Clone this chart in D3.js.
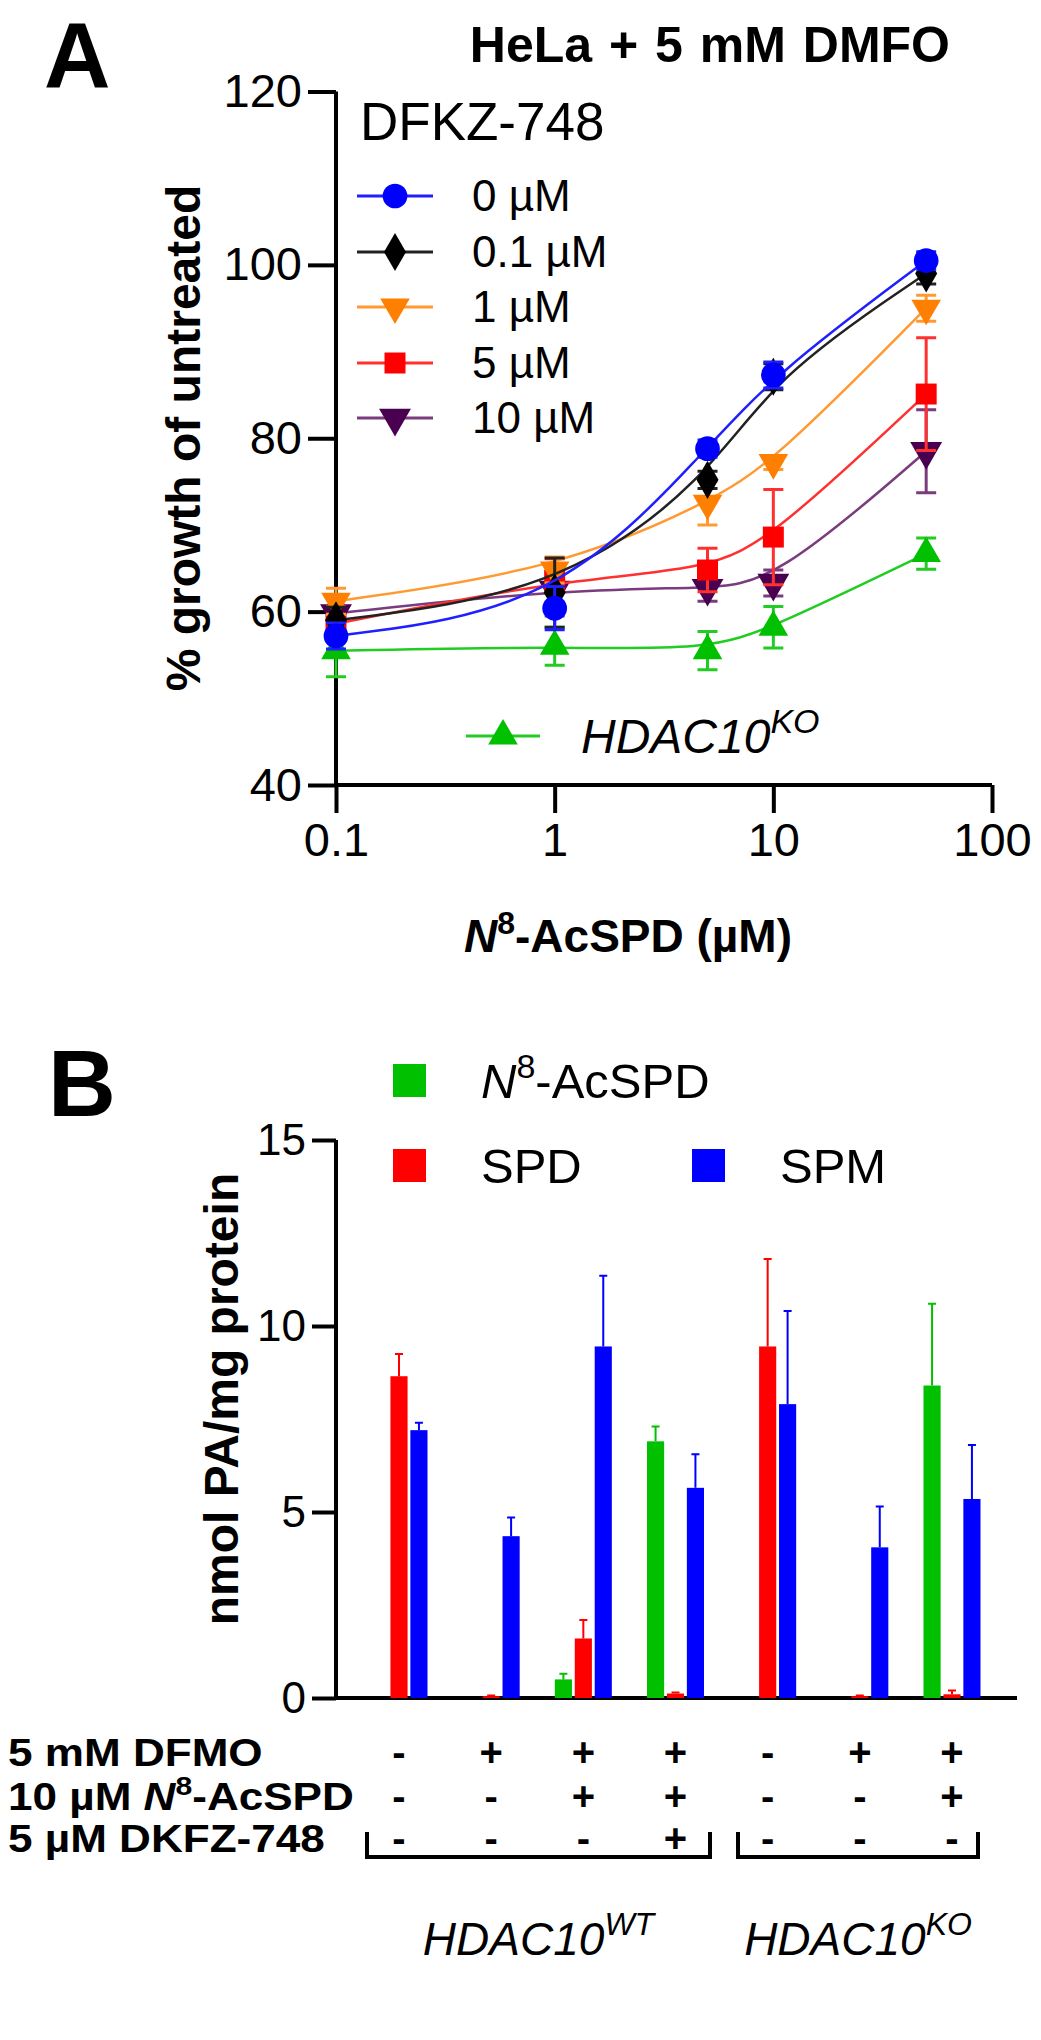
<!DOCTYPE html>
<html><head><meta charset="utf-8">
<script src="https://cdn.jsdelivr.net/npm/d3@7"></script>
<style>
html,body{margin:0;padding:0;background:#fff;}
svg{display:block;font-family:"Liberation Sans",Arial,sans-serif;}
</style></head>
<body><svg id="c" width="1041" height="2040"></svg>
<script>
// ---------- Panel A data ----------
const concs = [0.1, 1, 5, 10, 50];
const xTicksA = [0.1, 1, 10, 100];
const yTicksA = [40, 60, 80, 100, 120];
const seriesNamesA = ["0 µM", "0.1 µM", "1 µM", "5 µM", "10 µM", "HDAC10KO"];
const vals0 = [57.2, 60.4, 78.8, 87.3, 100.5];
const err0 = [1.5, 2.5, 1.0, 1.5, 1.0];
const vals01 = [59.0, 62.2, 75.2, 87.1, 99.0];
const err01 = [1.5, 4.0, 1.0, 1.5, 1.2];
const vals1 = [61.2, 64.8, 72.5, 77.2, 95.0];
const err1 = [1.5, 1.5, 2.5, 0.8, 1.5];
const vals5 = [58.6, 63.6, 64.8, 68.6, 85.1];
const err5 = [2.0, 2.5, 2.5, 5.5, 6.5];
const vals10 = [59.8, 62.5, 62.7, 63.3, 78.5];
const err10 = [2.0, 3.0, 1.5, 1.5, 4.8];
const valsKO = [55.5, 56.0, 55.5, 58.2, 66.7];
const errKO = [3.0, 2.2, 2.2, 2.4, 1.8];

// ---------- Panel B data ----------
const groupsB = ["WT ctrl", "WT DFMO", "WT DFMO+AcSPD", "WT DFMO+AcSPD+DKFZ", "KO ctrl", "KO DFMO", "KO DFMO+AcSPD"];
const seriesB = ["N8-AcSPD", "SPD", "SPM"];
const acspdVals = [0, 0, 0.5, 6.9, 0, 0, 8.4];
const acspdErr = [0, 0, 0.15, 0.4, 0, 0, 2.2];
const spdVals = [8.65, 0.05, 1.6, 0.12, 9.45, 0.05, 0.1];
const spdErr = [0.6, 0.02, 0.5, 0.03, 2.35, 0.02, 0.1];
const spmVals = [7.2, 4.35, 9.45, 5.65, 7.9, 4.05, 5.35];
const spmErr = [0.2, 0.5, 1.9, 0.9, 2.5, 1.1, 1.45];
const yTicksB = [0, 5, 10, 15];
const rowDFMO = ["-", "+", "+", "+", "-", "+", "+"];
const rowAcSPD = ["-", "-", "+", "+", "-", "-", "+"];
const rowDKFZ = ["-", "-", "-", "+", "-", "-", "-"];

const svg = d3.select("#c");
const FONT = '"Liberation Sans",Arial,sans-serif';

// ================= PANEL A =================
const xA = d3.scaleLog().domain([0.1, 100]).range([336, 992]);
const yA = d3.scaleLinear().domain([40, 120]).range([785, 91.5]);

svg.append("text").attr("x", 44).attr("y", 87).attr("font-size", 92).attr("font-weight", "bold").text("A");
svg.append("text").attr("x", 950).attr("y", 62).attr("text-anchor", "end")
  .attr("font-size", 50).attr("font-weight", "bold").attr("word-spacing", 3).text("HeLa + 5 mM  DMFO");

const gyA = svg.append("g").attr("transform", "translate(336,0)")
  .call(d3.axisLeft(yA).tickValues(yTicksA).tickSize(28).tickPadding(6).tickFormat(d3.format("d")));
const gxA = svg.append("g").attr("transform", "translate(0,785)")
  .call(d3.axisBottom(xA).tickValues(xTicksA).tickSize(28).tickPadding(10).tickFormat(d => String(d)));
[gyA, gxA].forEach(g => {
  g.select(".domain").attr("stroke", "#000").attr("stroke-width", 4);
  g.selectAll(".tick line").attr("stroke", "#000").attr("stroke-width", 4);
  g.selectAll("text").attr("font-family", FONT).attr("font-size", 47).attr("fill", "#000");
});
gyA.select(".domain").attr("d", "M0,785V91.5");
gxA.select(".domain").attr("d", "M336,0H992");

svg.append("text").attr("transform", "translate(200,438) rotate(-90)").attr("text-anchor", "middle")
  .attr("font-size", 48).attr("font-weight", "bold").text("% growth of untreated");
const xt = svg.append("text").attr("x", 628).attr("y", 952).attr("text-anchor", "middle")
  .attr("font-size", 46).attr("font-weight", "bold");
xt.append("tspan").attr("font-style", "italic").text("N");
xt.append("tspan").attr("dy", -18).attr("font-size", 32).text("8");
xt.append("tspan").attr("dy", 18).text("-AcSPD (µM)");

const seriesA = [
  {name: seriesNamesA[0], v: vals0, e: err0, line: "#1f1fff", fill: "#0000ff", sym: d3.symbolCircle, size: 480, rot: 0},
  {name: seriesNamesA[1], v: vals01, e: err01, line: "#222", fill: "#000", sym: d3.symbolDiamond, size: 420, rot: 0},
  {name: seriesNamesA[2], v: vals1, e: err1, line: "#ff9a33", fill: "#ff8000", sym: d3.symbolTriangle, size: 380, rot: 180},
  {name: seriesNamesA[3], v: vals5, e: err5, line: "#ff3030", fill: "#ff0000", sym: d3.symbolSquare, size: 440, rot: 0},
  {name: seriesNamesA[4], v: vals10, e: err10, line: "#7a3c7e", fill: "#4a0050", sym: d3.symbolTriangle, size: 440, rot: 180},
  {name: seriesNamesA[5], v: valsKO, e: errKO, line: "#22cc22", fill: "#00c000", sym: d3.symbolTriangle, size: 380, rot: 0}
];
const drawOrder = [5, 4, 3, 2, 1, 0];
const lineGen = d3.line().x(d => xA(d[0])).y(d => yA(d[1])).curve(d3.curveBasis);
drawOrder.forEach(i => {
  const s = seriesA[i];
  const pts = concs.map((c, j) => [c, s.v[j], s.e[j]]);
  const g = svg.append("g");
  g.append("path").attr("d", lineGen(pts)).attr("fill", "none").attr("stroke", s.line).attr("stroke-width", 2.5);
  pts.forEach(p => {
    const x = xA(p[0]);
    g.append("path").attr("d", `M${x},${yA(p[1] - p[2])}V${yA(p[1] + p[2])}M${x - 10},${yA(p[1] + p[2])}H${x + 10}M${x - 10},${yA(p[1] - p[2])}H${x + 10}`)
      .attr("stroke", s.line).attr("stroke-width", 3).attr("fill", "none");
    g.append("path").attr("d", d3.symbol().type(s.sym).size(s.size)())
      .attr("transform", `translate(${x},${yA(p[1])}) rotate(${s.rot})`).attr("fill", s.fill);
  });
});

// Legend A
svg.append("text").attr("x", 360).attr("y", 140).attr("font-size", 53).text("DFKZ-748");
const legY = [196, 252, 307, 363, 418];
[0, 1, 2, 3, 4].forEach((i, k) => {
  const s = seriesA[i];
  const y = legY[k];
  svg.append("line").attr("x1", 357).attr("x2", 433).attr("y1", y).attr("y2", y).attr("stroke", s.line).attr("stroke-width", 3);
  svg.append("path").attr("d", d3.symbol().type(s.sym).size(s.size)()).attr("transform", `translate(395,${y}) rotate(${s.rot})`).attr("fill", s.fill);
  svg.append("text").attr("x", 472).attr("y", y + 15).attr("font-size", 44).text(s.name);
});
{
  const s = seriesA[5];
  const y = 736;
  svg.append("line").attr("x1", 466).attr("x2", 540).attr("y1", y).attr("y2", y).attr("stroke", s.line).attr("stroke-width", 3);
  svg.append("path").attr("d", d3.symbol().type(s.sym).size(s.size)()).attr("transform", `translate(503,${y})`).attr("fill", s.fill);
  const t = svg.append("text").attr("x", 581).attr("y", y + 17).attr("font-size", 48).attr("font-style", "italic");
  t.append("tspan").text("HDAC10");
  t.append("tspan").attr("dy", -20).attr("font-size", 34).text("KO");
}

// ================= PANEL B =================
const y0B = 1698;
const yTopB = 1140;
const yB = d3.scaleLinear().domain([0, 15]).range([y0B, yTopB]);
const xB = d3.scalePoint().domain(groupsB).range([399, 952]);
const subB = d3.scaleBand().domain(seriesB).range([-28.5, 28.5]).paddingInner(0.14);
const colorsB = {"N8-AcSPD": "#00c000", "SPD": "#ff0000", "SPM": "#0000ff"};
const valsB = {"N8-AcSPD": [acspdVals, acspdErr], "SPD": [spdVals, spdErr], "SPM": [spmVals, spmErr]};

svg.append("text").attr("x", 48).attr("y", 1116).attr("font-size", 94).attr("font-weight", "bold").text("B");

const gyB = svg.append("g").attr("transform", "translate(336,0)")
  .call(d3.axisLeft(yB).tickValues(yTicksB).tickSize(24).tickPadding(6).tickFormat(d3.format("d")));
gyB.select(".domain").attr("d", `M0,${y0B}V${yTopB}`).attr("stroke", "#000").attr("stroke-width", 4);
gyB.selectAll(".tick line").attr("stroke", "#000").attr("stroke-width", 4);
gyB.selectAll("text").attr("font-family", FONT).attr("font-size", 44).attr("fill", "#000");
svg.append("line").attr("x1", 336).attr("x2", 1017).attr("y1", y0B).attr("y2", y0B).attr("stroke", "#000").attr("stroke-width", 4);

svg.append("text").attr("transform", `translate(238,${(y0B + yTopB) / 2 - 20}) rotate(-90)`).attr("text-anchor", "middle")
  .attr("font-size", 48).attr("font-weight", "bold").text("nmol PA/mg protein");

seriesB.forEach(s => {
  const [v, e] = valsB[s];
  groupsB.forEach((g, i) => {
    const x = xB(g) + subB(s);
    const w = subB.bandwidth();
    if (v[i] > 0) {
      svg.append("rect").attr("x", x).attr("y", yB(v[i])).attr("width", w).attr("height", y0B - yB(v[i])).attr("fill", colorsB[s]);
      if (e[i] > 0) {
        const cx = x + w / 2, yt = yB(v[i] + e[i]);
        svg.append("path").attr("d", `M${cx},${yB(v[i])}V${yt}M${cx - 4},${yt}H${cx + 4}`).attr("stroke", colorsB[s]).attr("stroke-width", 2).attr("fill", "none");
      }
    }
  });
});

// Legend B
const legB = [{s: "N8-AcSPD", x: 393, y: 1080}, {s: "SPD", x: 393, y: 1165}, {s: "SPM", x: 692, y: 1165}];
legB.forEach(l => {
  svg.append("rect").attr("x", l.x).attr("y", l.y - 16).attr("width", 33).attr("height", 33).attr("fill", colorsB[l.s]);
  const t = svg.append("text").attr("x", l.x + 88).attr("y", l.y + 18).attr("font-size", 49);
  if (l.s === "N8-AcSPD") {
    t.append("tspan").attr("font-style", "italic").text("N");
    t.append("tspan").attr("dy", -20).attr("font-size", 34).text("8");
    t.append("tspan").attr("dy", 20).text("-AcSPD");
  } else t.text(l.s);
});

// Condition rows
const rowY = [1752, 1796, 1838];
const rowVals = [rowDFMO, rowAcSPD, rowDKFZ];
const rowLab = (y) => svg.append("text").attr("transform", `translate(8,${y + 14}) scale(1.16,1)`).attr("font-size", 38).attr("font-weight", "bold");
rowLab(rowY[0]).text("5 mM DFMO");
const r2 = rowLab(rowY[1]);
r2.append("tspan").text("10 µM ");
r2.append("tspan").attr("font-style", "italic").text("N");
r2.append("tspan").attr("dy", -15).attr("font-size", 26).text("8");
r2.append("tspan").attr("dy", 15).text("-AcSPD");
rowLab(rowY[2]).text("5 µM DKFZ-748");
rowVals.forEach((vals, r) => {
  groupsB.forEach((g, i) => {
    svg.append("text").attr("x", xB(g)).attr("y", rowY[r] + 14).attr("text-anchor", "middle")
      .attr("font-size", 40).attr("font-weight", "bold").text(vals[i]);
  });
});

// Brackets
const brk = [["WT", 367, 710], ["KO", 738, 978]];
brk.forEach(b => {
  const x1 = b[1], x2 = b[2];
  svg.append("path").attr("d", `M${x1},1832V1857H${x2}V1832`).attr("stroke", "#000").attr("stroke-width", 4).attr("fill", "none");
  const t = svg.append("text").attr("x", (x1 + x2) / 2).attr("y", 1955).attr("text-anchor", "middle").attr("font-size", 46).attr("font-style", "italic");
  t.append("tspan").text("HDAC10");
  t.append("tspan").attr("dy", -20).attr("font-size", 32).text(b[0]);
});
</script></body></html>
